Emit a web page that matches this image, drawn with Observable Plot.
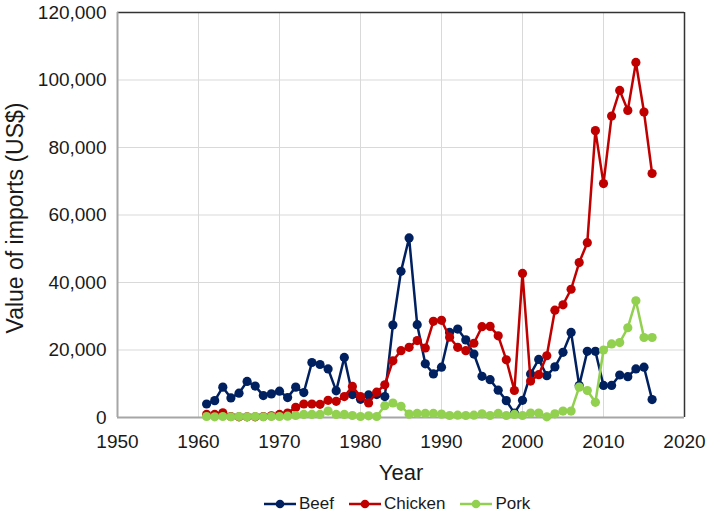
<!DOCTYPE html>
<html>
<head>
<meta charset="utf-8">
<script src="https://cdn.jsdelivr.net/npm/d3@7"></script>
<script src="https://cdn.jsdelivr.net/npm/@observablehq/plot@0.6"></script>
<style>
  html, body { margin: 0; padding: 0; background: #fff; }
  body { width: 709px; height: 516px; overflow: hidden; font-family: "Liberation Sans", Arial, sans-serif; }
  #legend { display: flex; align-items: center; height: 32px; padding-left: 264px; font-size: 17px; color: #1a1a1a; }
  .item { display: flex; align-items: center; margin-right: 15px; }
  .item svg { display: block; margin-right: 3px; }
</style>
</head>
<body>
<div id="chart"></div>
<div id="legend"></div>
<script>
const years = d3.range(1961, 2017);
const beef = [4000, 5000, 9000, 5800, 7200, 10700, 9300, 6500, 7000, 7800, 5900, 9000, 7400, 16300, 15700, 14400, 7900, 17800, 6800, 5400, 6700, 6800, 6200, 27400, 43300, 53200, 27500, 15900, 12900, 14900, 25200, 26200, 23000, 18800, 12200, 11200, 8100, 5000, 1300, 5100, 12900, 17200, 12400, 15000, 19300, 25200, 9500, 19600, 19600, 9500, 9500, 12600, 12100, 14400, 14900, 5300];
const chicken = [900, 900, 1400, 300, 200, 200, 200, 300, 500, 900, 1300, 3000, 4000, 4000, 3900, 5100, 4800, 6200, 9200, 6200, 4300, 7500, 9700, 16800, 19800, 20800, 22800, 20600, 28500, 28800, 23800, 20800, 19800, 22000, 26900, 27000, 24200, 17100, 8000, 42700, 10800, 12700, 18300, 31800, 33400, 38000, 45900, 51800, 85000, 69300, 89300, 96900, 91000, 105200, 90500, 72300];
const pork = [300, 200, 300, 200, 300, 200, 300, 200, 300, 300, 400, 600, 900, 900, 900, 1900, 900, 900, 600, 300, 500, 300, 3500, 4300, 3300, 1000, 1200, 1200, 1200, 1000, 600, 700, 600, 700, 1100, 600, 1200, 600, 900, 600, 1300, 1300, 200, 1100, 1900, 1900, 9000, 8000, 4500, 20000, 21800, 22200, 26600, 34600, 23700, 23700];
const seriesNames = ["Beef", "Chicken", "Pork"];
const seriesColors = ["#002060", "#C00000", "#92D050"];
const xTicks = [1950, 1960, 1970, 1980, 1990, 2000, 2010, 2020];
const yTicks = [0, 20000, 40000, 60000, 80000, 100000, 120000];
const xTitle = "Year";
const yTitle = "Value of imports (US$)";

const seriesValues = [beef, chicken, pork];
const seriesMarks = seriesNames.flatMap((name, i) => {
  const rows = years.map((yr, j) => ({year: yr, value: seriesValues[i][j]}));
  return [
    Plot.line(rows, {x: "year", y: "value", stroke: seriesColors[i], strokeWidth: 2.5}),
    Plot.dot(rows, {x: "year", y: "value", fill: seriesColors[i], r: 4.6, stroke: "none"})
  ];
});

const chart = Plot.plot({
  width: 709,
  height: 488,
  marginLeft: 117,
  marginRight: 25,
  marginTop: 12,
  marginBottom: 71,
  style: {fontFamily: "'Liberation Sans', Arial, sans-serif", color: "#1a1a1a", background: "#fff", overflow: "visible"},
  x: {domain: [1950, 2020]},
  y: {domain: [0, 120000]},
  marks: [
    Plot.gridX(xTicks, {stroke: "#d9d9d9", strokeOpacity: 1, strokeWidth: 1}),
    Plot.gridY(yTicks, {stroke: "#d9d9d9", strokeOpacity: 1, strokeWidth: 1}),
    Plot.ruleY([yTicks[yTicks.length - 1]], {stroke: "#333", strokeWidth: 1.5}),
    Plot.ruleX([xTicks[xTicks.length - 1]], {stroke: "#333", strokeWidth: 1.5}),
    Plot.ruleY([yTicks[0]], {stroke: "#a6a6a6", strokeWidth: 2}),
    Plot.ruleX([xTicks[0]], {stroke: "#a6a6a6", strokeWidth: 2}),
    Plot.axisX({ticks: xTicks, tickSize: 0, tickPadding: 17, tickFormat: d => String(d), fontSize: 19, label: null}),
    Plot.axisY({ticks: yTicks, tickSize: 0, tickPadding: 11, tickFormat: d3.format(","), fontSize: 19, label: null}),
    Plot.text([xTitle], {text: d => d, frameAnchor: "bottom", dy: 62, fontSize: 22, fill: "#1a1a1a"}),
    Plot.text([yTitle], {text: d => d, frameAnchor: "left", textAnchor: "middle", lineAnchor: "middle", dx: -102, dy: 3, rotate: -90, fontSize: 23, fill: "#1a1a1a"}),
    ...seriesMarks
  ]
});
document.getElementById("chart").appendChild(chart);

const legend = document.getElementById("legend");
seriesNames.forEach((name, i) => {
  const item = document.createElement("div");
  item.className = "item";
  const c = seriesColors[i];
  item.innerHTML = `<svg width="32" height="12"><line x1="0" y1="6" x2="32" y2="6" stroke="${c}" stroke-width="2.5"/><circle cx="16" cy="6" r="4.3" fill="${c}"/></svg><span>${name}</span>`;
  legend.appendChild(item);
});
</script>
</body>
</html>
